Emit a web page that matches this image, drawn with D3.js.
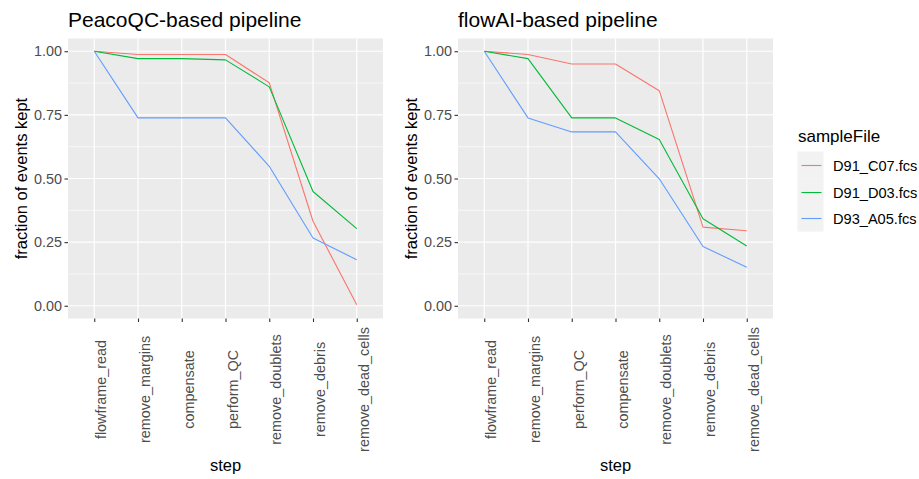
<!DOCTYPE html>
<html>
<head>
<meta charset="utf-8">
<script src="https://cdn.jsdelivr.net/npm/d3@7/dist/d3.min.js"></script>
<style>
  html, body { margin: 0; padding: 0; background: #ffffff; }
  svg { display: block; font-family: "Liberation Sans", Arial, sans-serif; }
</style>
</head>
<body>
<svg id="chart" width="919" height="479"></svg>
<script>
// ---------- data ----------
const sampleFiles = ["D91_C07.fcs", "D91_D03.fcs", "D93_A05.fcs"];
const seriesColors = ["#F8766D", "#00BA38", "#619CFF"];

const peacoSteps = ["flowframe_read", "remove_margins", "compensate", "perform_QC",
                    "remove_doublets", "remove_debris", "remove_dead_cells"];
const peacoD91C07 = [1.000, 0.987, 0.987, 0.987, 0.876, 0.332, 0.004];
const peacoD91D03 = [1.000, 0.971, 0.971, 0.966, 0.860, 0.449, 0.303];
const peacoD93A05 = [1.000, 0.738, 0.738, 0.738, 0.548, 0.266, 0.181];

const flowAISteps = ["flowframe_read", "remove_margins", "perform_QC", "compensate",
                     "remove_doublets", "remove_debris", "remove_dead_cells"];
const flowAID91C07 = [1.000, 0.987, 0.950, 0.950, 0.845, 0.309, 0.295];
const flowAID91D03 = [1.000, 0.971, 0.738, 0.738, 0.653, 0.342, 0.235];
const flowAID93A05 = [1.000, 0.738, 0.683, 0.683, 0.499, 0.233, 0.151];

const yTicks = [0, 0.25, 0.5, 0.75, 1.0];
const yMinorTicks = [0.125, 0.375, 0.625, 0.875];
const yLimits = [0, 1];

const panelTitles = ["PeacoQC-based pipeline", "flowAI-based pipeline"];
const yTitle = "fraction of events kept";
const xTitle = "step";
const legendTitle = "sampleFile";

// ---------- layout ----------
const svg = d3.select("#chart");
const panelTop = 38.5, panelBottom = 318.5;
const panels = [
  { left: 68, right: 383, steps: peacoSteps, series: [peacoD91C07, peacoD91D03, peacoD93A05], title: panelTitles[0] },
  { left: 458, right: 773, steps: flowAISteps, series: [flowAID91C07, flowAID91D03, flowAID93A05], title: panelTitles[1] }
];

const pad = (yLimits[1] - yLimits[0]) * 0.05;
const y = d3.scaleLinear().domain([yLimits[0] - pad, yLimits[1] + pad]).range([panelBottom, panelTop]);

panels.forEach(p => {
  const g = svg.append("g");
  const x = d3.scalePoint().domain(p.steps).range([p.left, p.right]).padding(0.6);

  // background
  g.append("rect").attr("x", p.left).attr("y", panelTop)
    .attr("width", p.right - p.left).attr("height", panelBottom - panelTop)
    .attr("fill", "#EBEBEB");

  // minor grid
  g.selectAll(".yminor").data(yMinorTicks).enter().append("line")
    .attr("x1", p.left).attr("x2", p.right)
    .attr("y1", d => y(d)).attr("y2", d => y(d))
    .attr("stroke", "#ffffff").attr("stroke-width", 0.6);
  // major grid
  g.selectAll(".ymajor").data(yTicks).enter().append("line")
    .attr("x1", p.left).attr("x2", p.right)
    .attr("y1", d => y(d)).attr("y2", d => y(d))
    .attr("stroke", "#ffffff").attr("stroke-width", 1.2);
  g.selectAll(".xmajor").data(p.steps).enter().append("line")
    .attr("x1", d => x(d)).attr("x2", d => x(d))
    .attr("y1", panelTop).attr("y2", panelBottom)
    .attr("stroke", "#ffffff").attr("stroke-width", 1.2);

  // lines
  const line = d3.line().x((d, i) => x(p.steps[i])).y(d => y(d));
  p.series.forEach((s, i) => {
    g.append("path").datum(s).attr("d", line)
      .attr("fill", "none").attr("stroke", seriesColors[i])
      .attr("stroke-width", 1.1).attr("stroke-linejoin", "round");
  });

  // y axis
  const ya = g.append("g").attr("transform", `translate(${p.left},0)`)
    .call(d3.axisLeft(y).tickValues(yTicks).tickFormat(d3.format(".2f")).tickSize(3.5).tickPadding(2.5));
  ya.select(".domain").remove();
  ya.selectAll(".tick line").attr("stroke", "#333333").attr("stroke-width", 1.1);
  ya.selectAll(".tick text").attr("fill", "#4D4D4D").attr("font-size", "14.4px")
    .attr("font-family", "Liberation Sans, Arial, sans-serif");

  // x axis
  const xa = g.append("g").attr("transform", `translate(0,${panelBottom})`)
    .call(d3.axisBottom(x).tickSize(3.5));
  xa.select(".domain").remove();
  xa.selectAll(".tick line").attr("stroke", "#333333").attr("stroke-width", 1.1);
  xa.selectAll(".tick text")
    .attr("fill", "#4D4D4D").attr("font-size", "14.4px")
    .attr("font-family", "Liberation Sans, Arial, sans-serif")
    .attr("text-anchor", "middle")
    .attr("x", 0).attr("y", 0).attr("dy", null)
    .attr("transform", "translate(11.5,71) rotate(-90)");

  // titles
  svg.append("text").attr("x", p.left).attr("y", 26.5)
    .attr("font-size", "21px").attr("fill", "#000").text(p.title);
  svg.append("text")
    .attr("transform", `translate(${p.left - 41},${(panelTop + panelBottom) / 2}) rotate(-90)`)
    .attr("text-anchor", "middle").attr("font-size", "16.5px").attr("fill", "#000").text(yTitle);
  svg.append("text").attr("x", (p.left + p.right) / 2).attr("y", 471)
    .attr("text-anchor", "middle").attr("font-size", "16.5px").attr("fill", "#000").text(xTitle);
});

// ---------- legend ----------
const lg = svg.append("g").attr("transform", "translate(798,0)");
lg.append("text").attr("x", 0).attr("y", 142).attr("font-size", "17px").attr("fill", "#000").text(legendTitle);
const keyH = 26.7, keyTop = 151.5;
sampleFiles.forEach((f, i) => {
  const cy = Math.round(keyTop + keyH * i + keyH / 2) + 0.5;
  lg.append("rect").attr("x", -0.5).attr("y", keyTop + keyH * i).attr("width", 26).attr("height", keyH)
    .attr("fill", "#F2F2F2");
  lg.append("line").attr("x1", 3.5).attr("x2", 23.5).attr("y1", cy).attr("y2", cy)
    .attr("stroke", seriesColors[i]).attr("stroke-width", 1.1);
  lg.append("text").attr("x", 35).attr("y", cy).attr("dy", "0.35em")
    .attr("font-size", "14.6px").attr("fill", "#000").text(f);
});
</script>
</body>
</html>
